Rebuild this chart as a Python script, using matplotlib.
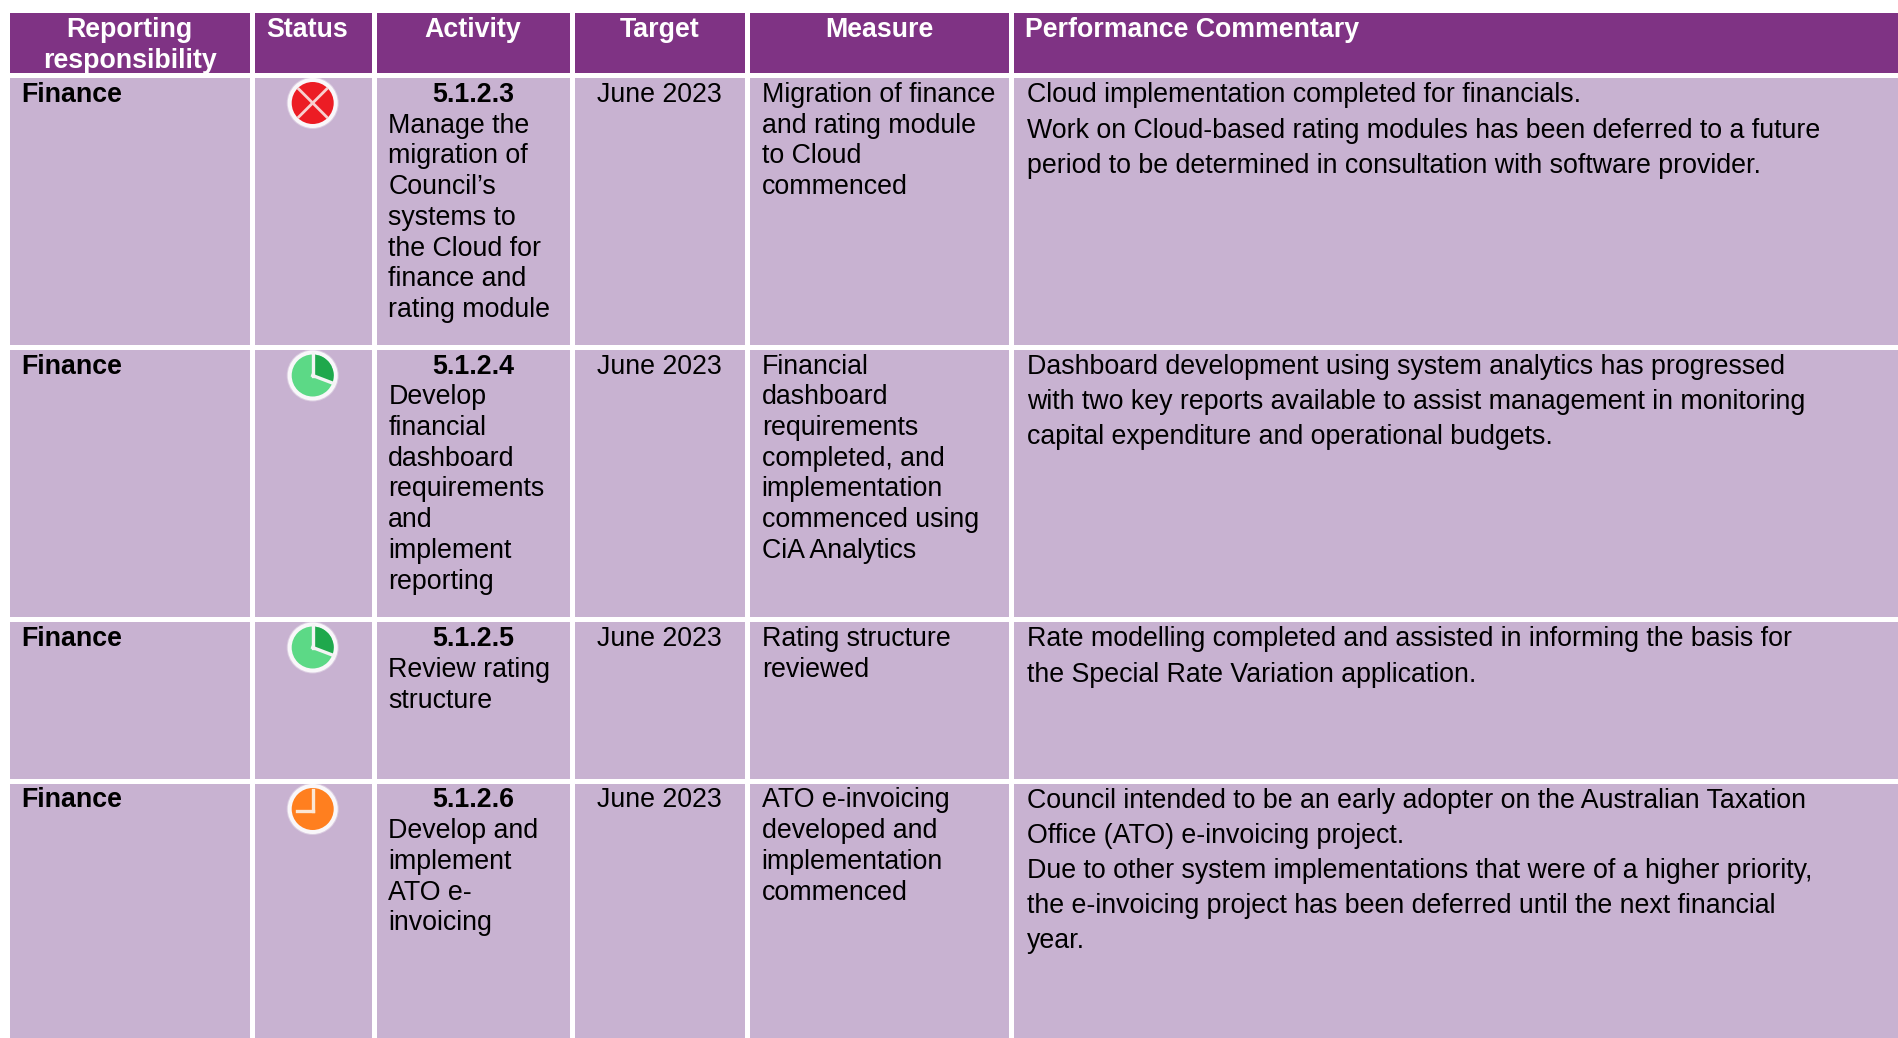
#!/usr/bin/env python3
# Performance table: purple header, four Finance rows, status icons drawn as patches.
import matplotlib
matplotlib.use("Agg")
import matplotlib.pyplot as plt
from matplotlib.patches import Rectangle, Circle, Wedge

headers = ["Reporting\nresponsibility", "Status", "Activity", "Target", "Measure", "Performance Commentary"]
responsibility = ["Finance", "Finance", "Finance", "Finance"]
status = ["not_met", "nearly", "nearly", "deferred"]
activity_ids = ["5.1.2.3", "5.1.2.4", "5.1.2.5", "5.1.2.6"]
activities = [
    ["Manage the", "migration of", "Council\u2019s", "systems to", "the Cloud for", "finance and", "rating module"],
    ["Develop", "financial", "dashboard", "requirements", "and", "implement", "reporting"],
    ["Review rating", "structure"],
    ["Develop and", "implement", "ATO e-", "invoicing"],
]
targets = ["June 2023", "June 2023", "June 2023", "June 2023"]
measures = [
    ["Migration of finance", "and rating module", "to Cloud", "commenced"],
    ["Financial", "dashboard", "requirements", "completed, and", "implementation", "commenced using", "CiA Analytics"],
    ["Rating structure", "reviewed"],
    ["ATO e-invoicing", "developed and", "implementation", "commenced"],
]
commentary = [
    ["Cloud implementation completed for financials.",
     "Work on Cloud-based rating modules has been deferred to a future",
     "period to be determined in consultation with software provider."],
    ["Dashboard development using system analytics has progressed",
     "with two key reports available to assist management in monitoring",
     "capital expenditure and operational budgets."],
    ["Rate modelling completed and assisted in informing the basis for",
     "the Special Rate Variation application."],
    ["Council intended to be an early adopter on the Australian Taxation",
     "Office (ATO) e-invoicing project.",
     "Due to other system implementations that were of a higher priority,",
     "the e-invoicing project has been deferred until the next financial",
     "year."],
]

PURPLE = "#7F3384"
LILAC = "#C8B2D1"
FS = 19.24

plt.rcParams["font.family"] = ["Liberation Sans", "DejaVu Sans"]

W, H = 1899, 1038
fig = plt.figure(figsize=(W / 100, H / 100), dpi=100, facecolor="white")
ax = fig.add_axes([0, 0, 1, 1])
ax.set_xlim(0, W)
ax.set_ylim(H, 0)
ax.axis("off")

col_x = [(10, 250), (255, 372), (377, 570), (575, 745), (750, 1009), (1014, 1899)]
row_y = [(78, 345), (350, 617), (622, 779), (784, 1038)]
header_y = (13, 73)

for x0, x1 in col_x:
    ax.add_patch(Rectangle((x0, header_y[0]), x1 - x0, header_y[1] - header_y[0], fc=PURPLE, ec="none"))
    for y0, y1 in row_y:
        ax.add_patch(Rectangle((x0, y0), x1 - x0, y1 - y0, fc=LILAC, ec="none"))

# header text
header_cx = [129.8, 307.5, 472.3, 660, 879]
for cx, h in zip(header_cx, headers):
    for k, line in enumerate(h.split("\n")):
        ax.text(cx, 37.2 + k * 30.5, line, color="white", fontsize=FS, fontweight="bold", ha="center", va="baseline")
ax.text(1025.5, 37.2, headers[5], color="white", fontsize=FS, fontweight="bold", ha="left", va="baseline")


def icon(kind, cx, cy, r=25):
    col = {"not_met": "#EC1C24", "nearly": "#5CD986", "deferred": "#FF7F1F"}[kind]
    ax.add_patch(Circle((cx, cy), r + 1, fc="white", ec="none", alpha=0.35, zorder=3))
    ax.add_patch(Circle((cx, cy), r, fc="white", ec="none", alpha=0.85, zorder=3))
    ax.add_patch(Circle((cx, cy), r - 4, fc=col, ec="none", zorder=4))
    if kind == "not_met":
        d = 14
        ax.plot([cx - d, cx + d], [cy - d, cy + d], color="#F8D0D0", lw=2.0, zorder=5)
        ax.plot([cx - d, cx + d], [cy + d, cy - d], color="#F8D0D0", lw=2.0, zorder=5)
    elif kind == "nearly":
        # y axis is inverted so angles run clockwise from 3 o'clock
        ax.add_patch(Wedge((cx, cy), r - 4, -90, 20, fc="#1FA84C", ec="none", zorder=5))
        ax.plot([cx, cx], [cy - r + 2, cy], color="#F4F4F4", lw=2.4, zorder=6)
        ax.plot([cx, cx + 21], [cy, cy + 8], color="#F4F4F4", lw=2.4, zorder=6)
    else:
        ax.plot([cx + 0.5, cx + 0.5], [cy - 19, cy + 2], color="#FBE6D4", lw=2.4, zorder=5)
        ax.plot([cx - 16, cx + 0.5], [cy + 2, cy + 2], color="#FBE6D4", lw=2.4, zorder=5)


LH = 30.7
LH_C = 35.2
first_base = [102, 373.7, 646.2, 807.4]
icon_y = [103, 375.5, 647.5, 809]
for i in range(4):
    b = first_base[i]
    ax.text(21.5, b, responsibility[i], fontsize=FS, fontweight="bold", color="black", va="baseline")
    icon(status[i], 312.7, icon_y[i])
    ax.text(473, b, activity_ids[i], fontsize=FS, fontweight="bold", color="black", ha="center", va="baseline")
    for k, line in enumerate(activities[i]):
        ax.text(388.3, b + (k + 1) * LH, line, fontsize=FS, color="black", va="baseline")
    ax.text(659, b, targets[i], fontsize=FS, color="black", ha="center", va="baseline")
    for k, line in enumerate(measures[i]):
        ax.text(761.7, b + k * LH, line, fontsize=FS, color="black", va="baseline")
    for k, line in enumerate(commentary[i]):
        ax.text(1027, b + 0.3 + k * LH_C, line, fontsize=FS, color="black", va="baseline")

fig.savefig("out.png", dpi=100, facecolor="white")
